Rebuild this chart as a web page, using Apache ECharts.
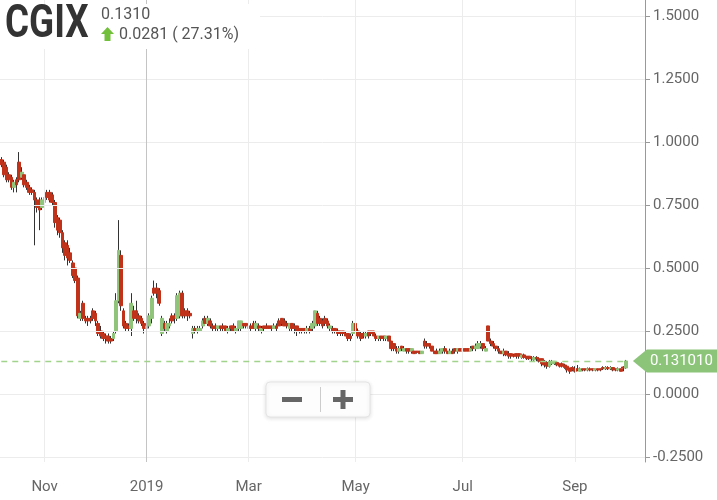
<!DOCTYPE html>
<html><head><meta charset="utf-8">
<script src="https://cdn.jsdelivr.net/npm/echarts@6/dist/echarts.min.js"></script>
<style>html,body{margin:0;padding:0;background:#fff}#c{width:717px;height:500px}</style>
</head><body><div id="c"></div>
<script>
// ---- data ----
const symbolName = 'CGIX';
const lastPriceText = '0.1310';
const changeText = '0.0281 ( 27.31%)';
const markPrice = 0.131010;
const markPriceText = '0.131010';
const startDate = '2018-10-09';
const endDate = '2019-10-10';
const holidays = ['2018-11-22','2018-12-05','2018-12-25','2019-01-01','2019-01-21','2019-02-18','2019-04-19','2019-05-27','2019-07-04','2019-09-02'];
const tickDates = ['2018-11-01','2019-01-02','2019-03-01','2019-05-01','2019-07-01','2019-09-03'];
const tickLabels = ['Nov','2019','Mar','May','Jul','Sep'];
const crosshairDate = '2019-01-02';
const yTicks = [-0.25,0,0.25,0.5,0.75,1,1.25,1.5];

// rows: [open, close, low, high]
const ohlcOct18 = [[0.93,0.91,0.90,0.94],[0.92,0.87,0.86,0.93],[0.90,0.85,0.84,0.91],[0.87,0.85,0.84,0.88],[0.86,0.82,0.81,0.87],[0.82,0.84,0.80,0.85],[0.85,0.83,0.80,0.86],[0.92,0.85,0.84,0.96],[0.86,0.88,0.85,0.90],[0.87,0.83,0.82,0.88],[0.84,0.82,0.81,0.85],[0.82,0.80,0.79,0.83],[0.81,0.80,0.79,0.82],[0.80,0.77,0.59,0.81],[0.77,0.74,0.72,0.78],[0.77,0.73,0.65,0.78],[0.74,0.77,0.73,0.78]];
const ohlcNov18 = [[0.76,0.78,0.75,0.79],[0.80,0.78,0.77,0.81],[0.80,0.77,0.76,0.81],[0.79,0.76,0.75,0.80],[0.76,0.68,0.66,0.77],[0.70,0.65,0.63,0.71],[0.69,0.64,0.62,0.70],[0.64,0.58,0.56,0.65],[0.60,0.55,0.53,0.61],[0.59,0.54,0.51,0.61],[0.56,0.53,0.52,0.58],[0.52,0.47,0.46,0.53],[0.50,0.45,0.44,0.51],[0.46,0.31,0.30,0.47],[0.30,0.32,0.29,0.33],[0.36,0.30,0.29,0.37],[0.30,0.29,0.28,0.31],[0.30,0.29,0.27,0.31],[0.30,0.29,0.28,0.31],[0.33,0.30,0.29,0.34],[0.32,0.29,0.27,0.33]];
const ohlcDec18 = [[0.28,0.24,0.23,0.29],[0.25,0.23,0.22,0.27],[0.24,0.22,0.21,0.25],[0.23,0.22,0.20,0.24],[0.23,0.21,0.20,0.24],[0.22,0.21,0.20,0.23],[0.22,0.24,0.21,0.25],[0.25,0.37,0.24,0.40],[0.37,0.57,0.36,0.69],[0.55,0.35,0.33,0.57],[0.33,0.27,0.26,0.34],[0.28,0.26,0.25,0.29],[0.27,0.26,0.25,0.28],[0.26,0.36,0.23,0.40],[0.33,0.30,0.29,0.35],[0.33,0.30,0.28,0.37],[0.31,0.29,0.28,0.32],[0.30,0.28,0.27,0.31],[0.28,0.26,0.24,0.29]];
const ohlcJan19 = [[0.26,0.27,0.25,0.28],[0.27,0.31,0.26,0.32],[0.30,0.38,0.28,0.39],[0.42,0.40,0.39,0.45],[0.42,0.40,0.38,0.44],[0.41,0.36,0.35,0.42],[0.24,0.30,0.23,0.31],[0.28,0.26,0.25,0.29],[0.25,0.28,0.24,0.29],[0.27,0.28,0.26,0.30],[0.31,0.29,0.28,0.32],[0.31,0.30,0.28,0.32],[0.30,0.39,0.29,0.40],[0.31,0.40,0.30,0.41],[0.40,0.31,0.30,0.41],[0.33,0.31,0.30,0.34],[0.33,0.31,0.29,0.34],[0.32,0.31,0.30,0.33],[0.24,0.26,0.22,0.27],[0.26,0.25,0.24,0.27],[0.25,0.26,0.24,0.27]];
const ohlcFeb19 = [[0.25,0.26,0.25,0.27],[0.27,0.29,0.26,0.30],[0.30,0.28,0.27,0.31],[0.28,0.30,0.27,0.31],[0.29,0.27,0.26,0.30],[0.27,0.26,0.25,0.28],[0.27,0.26,0.25,0.28],[0.26,0.27,0.25,0.27],[0.27,0.26,0.25,0.27],[0.27,0.26,0.25,0.28],[0.27,0.25,0.25,0.27],[0.25,0.26,0.24,0.27],[0.27,0.26,0.25,0.27],[0.27,0.25,0.25,0.28],[0.25,0.26,0.24,0.27],[0.26,0.29,0.25,0.29],[0.26,0.29,0.25,0.29],[0.28,0.27,0.26,0.28],[0.28,0.27,0.26,0.28]];
const ohlcMar19 = [[0.26,0.27,0.26,0.28],[0.27,0.26,0.25,0.28],[0.28,0.26,0.26,0.29],[0.26,0.28,0.25,0.29],[0.27,0.26,0.25,0.28],[0.25,0.26,0.24,0.27],[0.27,0.26,0.25,0.27],[0.27,0.26,0.26,0.28],[0.27,0.26,0.26,0.27],[0.27,0.26,0.25,0.27],[0.26,0.27,0.26,0.28],[0.27,0.26,0.25,0.28],[0.29,0.27,0.27,0.30],[0.30,0.28,0.27,0.30],[0.29,0.27,0.27,0.30],[0.28,0.27,0.26,0.29],[0.26,0.28,0.25,0.28],[0.28,0.26,0.25,0.28],[0.27,0.26,0.24,0.28],[0.27,0.25,0.23,0.27],[0.26,0.25,0.24,0.26]];
const ohlcApr19 = [[0.26,0.25,0.24,0.26],[0.26,0.25,0.24,0.26],[0.25,0.26,0.24,0.27],[0.26,0.25,0.24,0.27],[0.26,0.28,0.25,0.29],[0.27,0.33,0.26,0.33],[0.32,0.28,0.27,0.33],[0.30,0.28,0.27,0.31],[0.29,0.27,0.26,0.30],[0.30,0.28,0.27,0.31],[0.29,0.27,0.26,0.30],[0.26,0.27,0.25,0.28],[0.26,0.25,0.24,0.27],[0.26,0.25,0.24,0.26],[0.25,0.24,0.23,0.26],[0.25,0.24,0.23,0.25],[0.25,0.24,0.23,0.25],[0.24,0.23,0.23,0.25],[0.24,0.22,0.21,0.24],[0.23,0.22,0.21,0.24],[0.24,0.28,0.23,0.29]];
const ohlcMay19 = [[0.28,0.25,0.24,0.30],[0.25,0.23,0.22,0.26],[0.24,0.22,0.21,0.25],[0.24,0.23,0.22,0.25],[0.23,0.24,0.22,0.25],[0.25,0.23,0.22,0.25],[0.25,0.24,0.23,0.25],[0.25,0.23,0.23,0.25],[0.23,0.22,0.21,0.24],[0.22,0.23,0.21,0.23],[0.23,0.22,0.21,0.23],[0.23,0.22,0.21,0.23],[0.22,0.23,0.21,0.23],[0.23,0.21,0.21,0.23],[0.21,0.18,0.17,0.21],[0.20,0.18,0.17,0.20],[0.18,0.17,0.16,0.19],[0.17,0.18,0.16,0.19],[0.19,0.18,0.17,0.19],[0.17,0.18,0.17,0.19],[0.18,0.17,0.16,0.18],[0.18,0.17,0.16,0.18]];
const ohlcJun19 = [[0.17,0.18,0.16,0.18],[0.17,0.16,0.16,0.17],[0.17,0.165,0.16,0.17],[0.17,0.16,0.16,0.17],[0.16,0.17,0.16,0.17],[0.21,0.19,0.18,0.22],[0.20,0.19,0.18,0.21],[0.20,0.19,0.18,0.20],[0.19,0.17,0.17,0.19],[0.17,0.16,0.16,0.17],[0.17,0.16,0.16,0.18],[0.16,0.17,0.16,0.18],[0.17,0.18,0.16,0.18],[0.18,0.17,0.16,0.19],[0.17,0.16,0.16,0.17],[0.16,0.17,0.16,0.18],[0.17,0.16,0.16,0.18],[0.18,0.17,0.16,0.18],[0.17,0.18,0.16,0.18],[0.18,0.17,0.17,0.18]];
const ohlcJul19 = [[0.17,0.18,0.17,0.19],[0.18,0.17,0.17,0.18],[0.18,0.17,0.17,0.18],[0.17,0.18,0.17,0.19],[0.19,0.18,0.17,0.19],[0.18,0.19,0.17,0.20],[0.18,0.20,0.18,0.21],[0.19,0.20,0.18,0.21],[0.20,0.18,0.17,0.20],[0.17,0.18,0.17,0.19],[0.27,0.21,0.21,0.27],[0.21,0.20,0.19,0.22],[0.20,0.19,0.18,0.21],[0.19,0.18,0.17,0.19],[0.18,0.17,0.16,0.19],[0.17,0.16,0.16,0.17],[0.16,0.17,0.15,0.18],[0.17,0.155,0.15,0.17],[0.16,0.15,0.14,0.17],[0.16,0.15,0.14,0.16],[0.155,0.15,0.145,0.16],[0.16,0.15,0.14,0.16]];
const ohlcAug19 = [[0.16,0.15,0.14,0.16],[0.145,0.155,0.14,0.16],[0.155,0.145,0.14,0.16],[0.15,0.14,0.135,0.15],[0.15,0.14,0.135,0.15],[0.145,0.14,0.13,0.15],[0.135,0.145,0.13,0.15],[0.145,0.14,0.13,0.15],[0.14,0.13,0.125,0.145],[0.14,0.12,0.11,0.14],[0.13,0.115,0.105,0.135],[0.125,0.11,0.10,0.13],[0.11,0.13,0.105,0.135],[0.12,0.13,0.115,0.135],[0.12,0.13,0.115,0.13],[0.125,0.115,0.11,0.13],[0.12,0.11,0.105,0.12],[0.12,0.11,0.105,0.125],[0.115,0.105,0.10,0.12],[0.11,0.095,0.085,0.115],[0.10,0.09,0.08,0.105],[0.105,0.095,0.09,0.11]];
const ohlcSep19 = [[0.10,0.09,0.085,0.11],[0.10,0.095,0.09,0.115],[0.09,0.10,0.09,0.105],[0.10,0.095,0.09,0.10],[0.10,0.095,0.09,0.10],[0.095,0.10,0.09,0.105],[0.10,0.095,0.09,0.105],[0.10,0.095,0.09,0.10],[0.095,0.10,0.09,0.10],[0.10,0.095,0.09,0.10],[0.10,0.095,0.09,0.10],[0.105,0.10,0.095,0.11],[0.10,0.105,0.095,0.11],[0.105,0.10,0.095,0.11],[0.10,0.105,0.095,0.11],[0.105,0.095,0.09,0.105],[0.10,0.095,0.09,0.10],[0.095,0.10,0.09,0.105],[0.10,0.09,0.09,0.10],[0.107,0.103,0.09,0.11]];
const ohlcOct19 = [[0.103,0.131,0.10,0.135]];

// ---- build ----
const ohlc = [].concat(ohlcOct18, ohlcNov18, ohlcDec18, ohlcJan19, ohlcFeb19, ohlcMar19, ohlcApr19, ohlcMay19, ohlcJun19, ohlcJul19, ohlcAug19, ohlcSep19, ohlcOct19);
const dates = [];
(function(){
  const hol = new Set(holidays);
  const p = s => { const a = s.split('-').map(Number); return Date.UTC(a[0], a[1]-1, a[2]); };
  for (let t = p(startDate); t <= p(endDate); t += 86400000) {
    const d = new Date(t); const wd = d.getUTCDay();
    const s = d.toISOString().slice(0,10);
    if (wd === 0 || wd === 6 || hol.has(s)) continue;
    dates.push(s);
  }
})();
const bodies = ohlc.map(r => [r[0], r[1], Math.min(r[0], r[1]), Math.max(r[0], r[1])]);
const tickSet = new Set(tickDates);
const labelOf = {}; tickDates.forEach((d, i) => labelOf[d] = tickLabels[i]);
const isTick = (idx, val) => tickSet.has(val);

const RED = '#c0321a', GREEN = '#8fc47a', WICK = '#333';
const FONT = 'Roboto, "Noto Sans", sans-serif';

const chart = echarts.init(document.getElementById('c'), null, {renderer: 'canvas'});
const option = {
  animation: false,
  backgroundColor: '#fff',
  grid: {left: 0, right: 72, top: 0, bottom: 38, containLabel: false},
  xAxis: {
    type: 'category', data: dates, boundaryGap: true,
    axisLine: {show: true, lineStyle: {color: '#999', width: 1}},
    axisTick: {show: true, alignWithLabel: true, interval: isTick, length: 7, lineStyle: {color: '#999'}},
    axisLabel: {interval: isTick, formatter: v => labelOf[v] || '', color: '#666', fontSize: 15, fontFamily: FONT, margin: 18},
    splitLine: {show: false}
  },
  yAxis: {
    type: 'value', position: 'right', min: -0.27, max: 1.5635, scale: false,
    axisLine: {show: true, lineStyle: {color: '#999', width: 1}},
    axisTick: {show: true, length: 5, customValues: yTicks, lineStyle: {color: '#999'}},
    axisLabel: {customValues: yTicks, formatter: v => Number(v).toFixed(4), color: '#666', fontSize: 15, fontFamily: FONT, margin: 8},
    splitLine: {show: false}
  },
  series: [
    {
      type: 'line', data: [], z: 1, silent: true,
      markLine: {
        silent: true, symbol: 'none', label: {show: false}, animation: false,
        lineStyle: {color: '#ececec', width: 1, type: 'solid'},
        data: yTicks.map(v => ({yAxis: v})).concat(tickDates.map(d => ({xAxis: d})))
          .concat([{xAxis: crosshairDate, lineStyle: {color: '#c4c4c4', width: 1, type: 'solid'}}])
      }
    },
    {
      name: 'wick', type: 'candlestick', data: ohlc, z: 3, barWidth: 1,
      itemStyle: {color: WICK, color0: WICK, borderColor: WICK, borderColor0: WICK, borderColorDoji: WICK, borderWidth: 1}
    },
    {
      name: 'body', type: 'candlestick', data: bodies, z: 4, barWidth: 3.2,
      itemStyle: {color: GREEN, color0: RED, borderColor: GREEN, borderColor0: RED, borderColorDoji: RED, borderWidth: 1},
      markLine: {
        silent: true, symbol: 'none', label: {show: false}, animation: false,
        lineStyle: {color: '#a2d38c', width: 1.3, type: [6, 5]},
        data: [[{coord: [dates[0], markPrice]}, {coord: [dates[ohlc.length - 1], markPrice]}]]
      }
    }
  ]
};
chart.setOption(option);

// overlay graphics (title block, price tag, zoom buttons)
const py = chart.convertToPixel({yAxisIndex: 0}, markPrice);
const lastX = chart.convertToPixel({xAxisIndex: 0}, dates[ohlc.length - 1]);
const tipX = lastX + 7;
const boxL = tipX + 14;
chart.setOption({graphic: [
  {type: 'rect', z: 100, shape: {x: 0, y: 4, width: 260, height: 45}, style: {fill: '#fff'}},
  {type: 'text', z: 101, x: 5, y: 25, scaleX: 0.8, style: {text: symbolName, fill: '#333', font: 'bold 46px Roboto, sans-serif', verticalAlign: 'middle', align: 'left'}},
  {type: 'text', z: 101, x: 101, y: 15, style: {text: lastPriceText, fill: '#555', font: '16px ' + FONT, verticalAlign: 'middle'}},
  {type: 'polygon', z: 101, shape: {points: [[107.5, 27], [114, 34], [110.5, 34], [110.5, 41], [104.5, 41], [104.5, 34], [101, 34]]}, style: {fill: '#72bf3c'}},
  {type: 'text', z: 101, x: 119, y: 34.5, style: {text: changeText, fill: '#555', font: '16px ' + FONT, verticalAlign: 'middle'}},
  {type: 'polygon', z: 101, shape: {points: [[tipX, py], [boxL, py - 11.5], [725, py - 11.5], [725, py + 11.5], [boxL, py + 11.5]]}, style: {fill: '#8cc47a'}},
  {type: 'text', z: 102, x: boxL + 3, y: py + 0.5, style: {text: markPriceText, fill: '#fff', font: '15px ' + FONT, verticalAlign: 'middle'}},
  {type: 'rect', z: 100, shape: {x: 266, y: 382, width: 104, height: 35, r: 4}, style: {fill: '#fdfdfd', stroke: '#e4e4e4', lineWidth: 1, shadowBlur: 4, shadowColor: 'rgba(0,0,0,0.12)', shadowOffsetY: 1}},
  {type: 'rect', z: 101, shape: {x: 282, y: 397, width: 20, height: 5}, style: {fill: '#666'}},
  {type: 'line', z: 101, shape: {x1: 320.5, y1: 387, x2: 320.5, y2: 412}, style: {stroke: '#ccc', lineWidth: 1}},
  {type: 'rect', z: 101, shape: {x: 333, y: 397, width: 20, height: 5}, style: {fill: '#666'}},
  {type: 'rect', z: 101, shape: {x: 340.5, y: 390, width: 5, height: 19}, style: {fill: '#666'}}
]});
</script>
</body></html>
